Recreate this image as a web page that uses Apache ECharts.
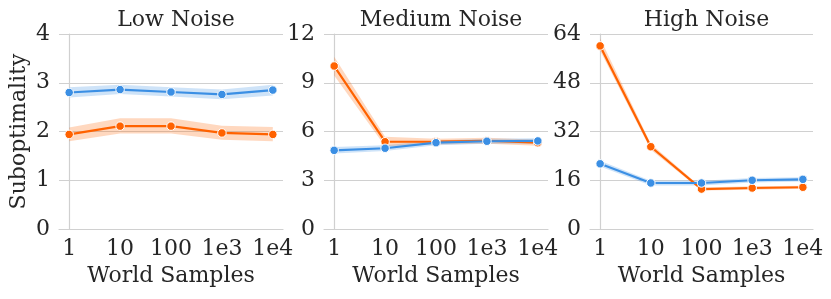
<!DOCTYPE html>
<html><head><meta charset="utf-8">
<script src="https://cdn.jsdelivr.net/npm/echarts@6/dist/echarts.min.js"></script>
<style>html,body{margin:0;padding:0;background:#fff}#c{width:831px;height:299px}</style>
</head><body><div id="c"></div>
<script>
const xTickLabels = ['1', '10', '100', '1e3', '1e4'];
const xPos = [0, 1, 2, 3, 4];
const panelTitles = ['Low Noise', 'Medium Noise', 'High Noise'];
const yMax = [4, 12, 64];
const yInterval = [1, 3, 16];

// Low noise
const lowBlue = [2.80, 2.86, 2.81, 2.76, 2.85];
const lowBlueLo = [2.70, 2.77, 2.72, 2.66, 2.74];
const lowBlueHi = [2.91, 2.96, 2.91, 2.86, 2.96];
const lowOrange = [1.94, 2.11, 2.11, 1.97, 1.94];
const lowOrangeLo = [1.80, 1.96, 1.96, 1.83, 1.80];
const lowOrangeHi = [2.08, 2.27, 2.27, 2.12, 2.09];
// Medium noise
const medBlue = [4.84, 4.97, 5.31, 5.40, 5.42];
const medBlueLo = [4.65, 4.80, 5.15, 5.25, 5.25];
const medBlueHi = [5.05, 5.15, 5.45, 5.55, 5.58];
const medOrange = [10.03, 5.37, 5.38, 5.43, 5.31];
const medOrangeLo = [9.45, 5.10, 5.20, 5.25, 5.12];
const medOrangeHi = [10.60, 5.68, 5.55, 5.62, 5.50];
// High noise
const highBlue = [21.4, 15.1, 15.1, 16.0, 16.3];
const highBlueLo = [20.5, 14.3, 14.3, 15.3, 15.6];
const highBlueHi = [22.4, 15.8, 15.8, 16.7, 17.0];
const highOrange = [60.1, 27.0, 13.1, 13.45, 13.7];
const highOrangeLo = [58.5, 26.0, 12.6, 12.9, 13.2];
const highOrangeHi = [62.5, 28.0, 13.6, 14.0, 14.2];

const BLUE = '#3b8fe4';
const ORANGE = '#ff6200';
const FONT = 'DejaVu Serif';
const FS = 22;
const TXT = '#262626';
const GRIDC = '#d0d0d0';

const panels = [
  {blue: lowBlue, blo: lowBlueLo, bhi: lowBlueHi, orange: lowOrange, olo: lowOrangeLo, ohi: lowOrangeHi},
  {blue: medBlue, blo: medBlueLo, bhi: medBlueHi, orange: medOrange, olo: medOrangeLo, ohi: medOrangeHi},
  {blue: highBlue, blo: highBlueLo, bhi: highBlueHi, orange: highOrange, olo: highOrangeLo, ohi: highOrangeHi}
];
const grids = [
  {left: 59, top: 34, width: 224, height: 195},
  {left: 324, top: 34, width: 224, height: 195},
  {left: 590, top: 34, width: 223, height: 195}
];

function bandSeries(i, lo, hi, color) {
  return {
    type: 'custom', xAxisIndex: i, yAxisIndex: i, silent: true, z: 1,
    data: [[0, 0]],
    renderItem: function (params, api) {
      const pts = [];
      for (let k = 0; k < xPos.length; k++) pts.push(api.coord([xPos[k], hi[k]]));
      for (let k = xPos.length - 1; k >= 0; k--) pts.push(api.coord([xPos[k], lo[k]]));
      return {type: 'polygon', shape: {points: pts}, style: {fill: color, opacity: 0.25}};
    }
  };
}
function lineSeries(i, vals, color, z) {
  return {
    type: 'line', xAxisIndex: i, yAxisIndex: i, z: z,
    data: xPos.map((x, k) => [x, vals[k]]),
    symbol: 'circle', symbolSize: 8.5, showSymbol: true,
    lineStyle: {color: color, width: 2.2},
    itemStyle: {color: color, borderColor: '#fff', borderWidth: 1},
    animation: false
  };
}

const series = [];
panels.forEach((p, i) => {
  series.push(bandSeries(i, p.olo, p.ohi, ORANGE));
  series.push(bandSeries(i, p.blo, p.bhi, BLUE));
  series.push(lineSeries(i, p.orange, ORANGE, 3));
  series.push(lineSeries(i, p.blue, BLUE, 4));
});

const option = {
  animation: false,
  backgroundColor: '#fff',
  textStyle: {fontFamily: FONT, color: TXT},
  title: grids.map((g, i) => ({
    text: panelTitles[i], left: g.left + g.width / 2, top: 4, textAlign: 'center',
    textStyle: {fontFamily: FONT, fontSize: FS, fontWeight: 'normal', color: TXT}
  })),
  grid: grids,
  xAxis: grids.map((g, i) => ({
    type: 'value', gridIndex: i, min: -0.2, max: 4.2,
    name: 'World Samples', nameLocation: 'middle', nameGap: 36,
    nameTextStyle: {fontFamily: FONT, fontSize: FS, color: TXT},
    axisLine: {show: true, lineStyle: {color: GRIDC, width: 1.2}},
    axisTick: {show: false},
    splitLine: {show: false},
    axisLabel: {
      customValues: xPos, margin: 9,
      fontFamily: FONT, fontSize: FS, color: TXT,
      formatter: v => xTickLabels[Math.round(v)]
    }
  })),
  yAxis: grids.map((g, i) => ({
    type: 'value', gridIndex: i, min: 0, max: yMax[i], interval: yInterval[i],
    name: i === 0 ? 'Suboptimality' : '', nameLocation: 'middle', nameGap: 29, nameRotate: 90,
    nameTextStyle: {fontFamily: FONT, fontSize: FS, color: TXT},
    axisLine: {show: true, lineStyle: {color: GRIDC, width: 1.2}},
    axisTick: {show: false},
    splitLine: {show: true, lineStyle: {color: GRIDC, width: 1.2}},
    axisLabel: {margin: 9, fontFamily: FONT, fontSize: FS, color: TXT}
  })),
  series: series
};
const chart = echarts.init(document.getElementById('c'), null, {renderer: 'canvas'});
chart.setOption(option);
</script></body></html>
